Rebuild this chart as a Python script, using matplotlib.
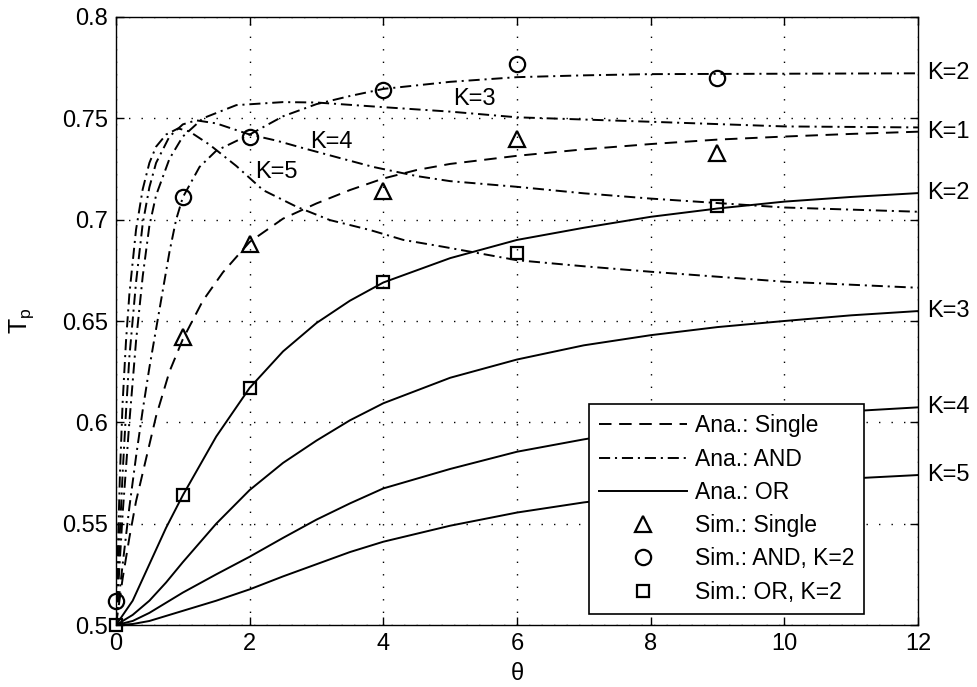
import matplotlib
matplotlib.use('Agg')
import matplotlib.pyplot as plt
from matplotlib.lines import Line2D

plt.rcParams['font.family'] = ['Liberation Sans', 'DejaVu Sans']
plt.rcParams['mathtext.default'] = 'regular'
plt.rcParams['lines.scale_dashes'] = False

# ---------------- data ----------------
# Analytical, single detector (K=1)
th_single = [0, 0.1, 0.2, 0.3, 0.45, 0.6, 0.8, 1.0, 1.3, 1.6, 2.0, 2.5, 3.0, 3.5,
             4.0, 4.5, 5, 6, 7, 8, 9, 10, 11, 12]
tp_single = [0.5, 0.523, 0.543, 0.561, 0.582, 0.603, 0.625, 0.641, 0.660, 0.674,
             0.689, 0.7005, 0.708, 0.7146, 0.7203, 0.7245, 0.7275, 0.7315, 0.7347,
             0.7373, 0.7395, 0.741, 0.7423, 0.7434]

# Analytical, AND rule
th_and2 = [0, 0.1, 0.2, 0.3, 0.4, 0.5, 0.6, 0.7, 0.8, 0.9, 1.0, 1.25, 1.5, 2.0,
           2.5, 3.0, 3.5, 4.0, 5.0, 6.0, 7, 8, 10, 12]
tp_and2 = [0.5, 0.53, 0.558, 0.583, 0.606, 0.627, 0.646, 0.665, 0.684, 0.700,
           0.711, 0.726, 0.734, 0.742, 0.751, 0.757, 0.761, 0.7645, 0.768, 0.7703,
           0.7712, 0.7718, 0.772, 0.7722]

th_and3 = [0, 0.1, 0.2, 0.3, 0.4, 0.5, 0.6, 0.8, 1.0, 1.3, 1.8, 2.5, 3.0, 4, 5, 6,
           8, 10, 12]
tp_and3 = [0.5, 0.555, 0.600, 0.640, 0.672, 0.697, 0.712, 0.730, 0.741, 0.750,
           0.7565, 0.758, 0.7578, 0.7555, 0.7533, 0.7505, 0.7483, 0.746, 0.7455]

th_and4 = [0, 0.05, 0.1, 0.15, 0.2, 0.3, 0.4, 0.5, 0.6, 0.8, 1.0, 1.2, 1.5, 2.0,
           2.4, 2.8, 3.35, 3.85, 4.5, 5, 6, 7, 8, 10, 12]
tp_and4 = [0.5, 0.54, 0.575, 0.605, 0.632, 0.669, 0.698, 0.716, 0.728, 0.741,
           0.747, 0.749, 0.7475, 0.742, 0.739, 0.7353, 0.7304, 0.726, 0.7215,
           0.719, 0.7162, 0.713, 0.7104, 0.706, 0.7039]

th_and5 = [0, 0.03, 0.06, 0.1, 0.15, 0.2, 0.3, 0.4, 0.5, 0.6, 0.75, 0.93, 1.1,
           1.4, 1.8, 2.2, 2.7, 3.2, 3.8, 4.3, 4.9, 6, 7, 8, 10, 12]
tp_and5 = [0.5, 0.54, 0.575, 0.61, 0.64, 0.663, 0.695, 0.715, 0.728, 0.736,
           0.742, 0.745, 0.7435, 0.737, 0.7265, 0.7146, 0.7064, 0.6998, 0.6949,
           0.690, 0.6866, 0.680, 0.677, 0.6743, 0.6694, 0.6664]

# Analytical, OR rule
th_or = [0, 0.25, 0.5, 0.75, 1, 1.5, 2, 2.5, 3, 3.5, 4, 5, 6, 7, 8, 9, 10, 11, 12]
tp_or2 = [0.5, 0.512, 0.530, 0.548, 0.564, 0.593, 0.617, 0.635, 0.649, 0.660,
          0.669, 0.681, 0.690, 0.696, 0.7014, 0.7055, 0.7089, 0.7112, 0.7131]
tp_or3 = [0.5, 0.505, 0.512, 0.521, 0.531, 0.550, 0.5666, 0.580, 0.591, 0.601,
          0.6094, 0.622, 0.631, 0.638, 0.643, 0.647, 0.650, 0.6528, 0.6549]
tp_or4 = [0.5, 0.502, 0.506, 0.511, 0.516, 0.525, 0.5337, 0.543, 0.552, 0.560,
          0.5674, 0.577, 0.5855, 0.5916, 0.597, 0.601, 0.6035, 0.6055, 0.6074]
tp_or5 = [0.5, 0.5005, 0.502, 0.5045, 0.507, 0.512, 0.5176, 0.524, 0.530, 0.536,
          0.5411, 0.549, 0.5555, 0.5605, 0.5645, 0.5678, 0.5703, 0.5723, 0.574]

# Simulation points
sim_single_th = [1, 2, 4, 6, 9]
sim_single = [0.642, 0.688, 0.714, 0.740, 0.733]
sim_and_th = [0, 1, 2, 4, 6, 9]
sim_and = [0.512, 0.711, 0.741, 0.764, 0.777, 0.770]
sim_or_th = [0, 1, 2, 4, 6, 9]
sim_or = [0.500, 0.564, 0.617, 0.669, 0.6835, 0.7067]

# Right-side curve labels
right_labels = ['K=2', 'K=1', 'K=2', 'K=3', 'K=4', 'K=5']
right_label_y = [0.7722, 0.7434, 0.7131, 0.6549, 0.6074, 0.574]

legend_labels = ['Ana.: Single', 'Ana.: AND', 'Ana.: OR',
                 'Sim.: Single', 'Sim.: AND, K=2', 'Sim.: OR, K=2']

xticks = [0, 2, 4, 6, 8, 10, 12]
yticks = [0.5, 0.55, 0.6, 0.65, 0.7, 0.75, 0.8]
yticklabels = ['0.5', '0.55', '0.6', '0.65', '0.7', '0.75', '0.8']

# ---------------- drawing ----------------
DASH = (0, (9, 5.5))
DASHDOT = (0, (8, 3.5, 1.5, 3.5))
LW = 1.4
FS = 17

fig = plt.figure(figsize=(9.77, 6.87), dpi=100)
ax = fig.add_axes([0.1187, 0.0902, 0.8209, 0.8851])

ax.plot(th_single, tp_single, color='k', lw=LW, linestyle=DASH)
for th, tp in [(th_and2, tp_and2), (th_and3, tp_and3), (th_and4, tp_and4), (th_and5, tp_and5)]:
    ax.plot(th, tp, color='k', lw=LW, linestyle=DASHDOT)
for tp in [tp_or2, tp_or3, tp_or4, tp_or5]:
    ax.plot(th_or, tp, color='k', lw=LW, linestyle='-')

ax.plot(sim_single_th, sim_single, linestyle='none', marker='^', ms=11,
        mfc='none', mec='k', mew=1.6, clip_on=False)
ax.plot(sim_and_th, sim_and, linestyle='none', marker='o', ms=11,
        mfc='none', mec='k', mew=1.6, clip_on=False)
ax.plot(sim_or_th, sim_or, linestyle='none', marker='s', ms=9,
        mfc='none', mec='k', mew=1.6, clip_on=False)

ax.set_xlim(0, 12)
ax.set_ylim(0.5, 0.8)
ax.set_xticks(xticks)
ax.set_yticks(yticks)
ax.set_yticklabels(yticklabels)
ax.tick_params(direction='in', length=6, width=1, top=True, right=True,
               labelsize=FS, pad=6, colors='k')
ax.grid(True, color='k', linestyle=(0, (1, 8)), linewidth=1.0)
for s in ax.spines.values():
    s.set_linewidth(1.0)
    s.set_color('k')

ax.set_xlabel('θ', fontsize=FS)
ax.set_ylabel('T$_p$', fontsize=FS + 1)
ax.xaxis.set_label_coords(0.5, -0.062)
ax.yaxis.set_label_coords(-0.100, 0.5)

for lab, yv in zip(right_labels, right_label_y):
    ax.text(12.13, yv, lab, ha='left', va='center', fontsize=FS, clip_on=False)

ax.text(5.05, 0.7595, 'K=3', ha='left', va='center', fontsize=FS)
ax.text(2.9, 0.7385, 'K=4', ha='left', va='center', fontsize=FS)
ax.text(2.08, 0.7235, 'K=5', ha='left', va='center', fontsize=FS)

handles = [
    Line2D([], [], color='k', lw=LW, linestyle=DASH),
    Line2D([], [], color='k', lw=LW, linestyle=DASHDOT),
    Line2D([], [], color='k', lw=LW, linestyle='-'),
    Line2D([], [], color='k', linestyle='none', marker='^', ms=11, mfc='none', mew=1.6),
    Line2D([], [], color='k', linestyle='none', marker='o', ms=11, mfc='none', mew=1.6),
    Line2D([], [], color='k', linestyle='none', marker='s', ms=9, mfc='none', mew=1.6),
]
leg = ax.legend(handles, legend_labels, loc='lower right', bbox_to_anchor=(0.933, 0.018),
                borderaxespad=0, fancybox=False, framealpha=1, edgecolor='k',
                fontsize=16.5, handlelength=3.8, labelspacing=0.45, borderpad=0.45,
                handletextpad=0.35)
leg.get_frame().set_linewidth(1.2)

fig.savefig('out.png', dpi=100, facecolor='white')
